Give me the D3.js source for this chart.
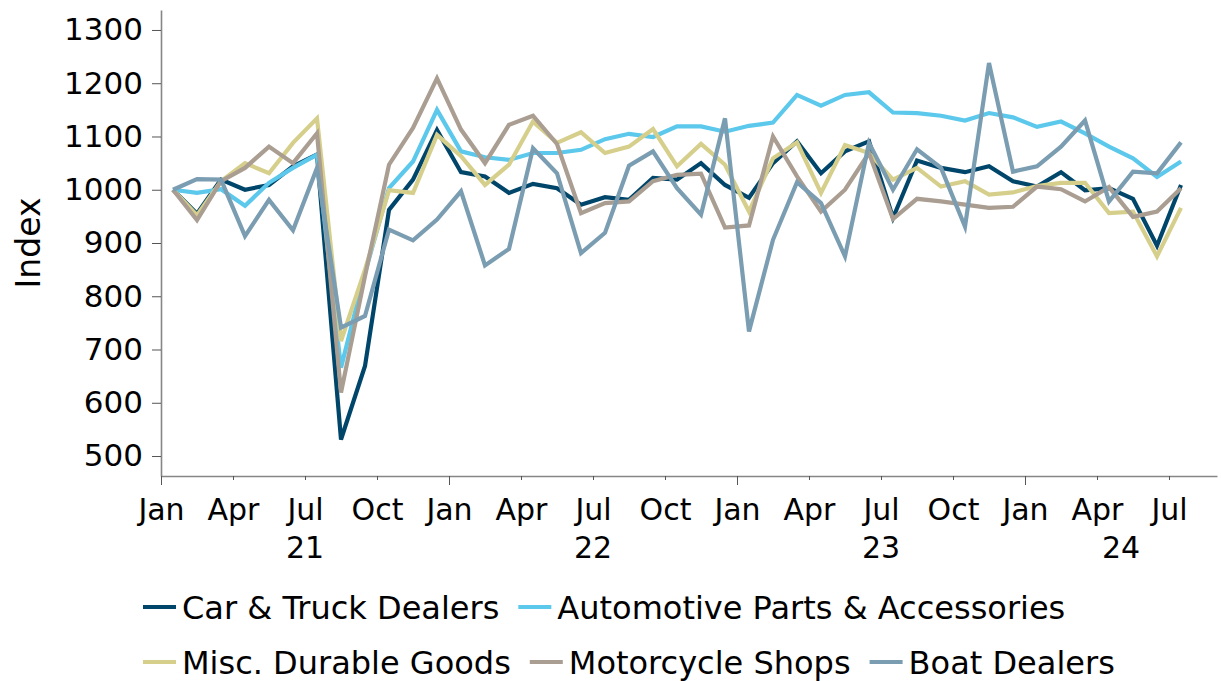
<!DOCTYPE html>
<html>
<head>
<meta charset="utf-8">
<script src="https://cdn.jsdelivr.net/npm/d3@7"></script>
<style>
  body { margin: 0; background: #fff; }
  text { font-family: "DejaVu Sans", Verdana, sans-serif; fill: #000; }
</style>
</head>
<body>
<div id="chart"></div>
<script>
// monthly index, Jan 2021 = 1000, Jan 2021 .. Jul 2024
const monthNames = ["Jan", "Feb", "Mar", "Apr", "May", "Jun", "Jul", "Aug", "Sep", "Oct", "Nov", "Dec"];
const years = ["21", "22", "23", "24"];
const nMonths = 44; // axis runs through Aug 24

const carTruck = [1000, 955, 1019, 1000, 1009, 1044, 1066, 531, 669, 962, 1019, 1112,
  1033, 1025, 994, 1011, 1003, 972, 986, 981, 1022, 1019, 1050, 1009,
  985, 1050, 1091, 1031, 1072, 1091, 947, 1055, 1041, 1033, 1044, 1016,
  1006, 1033, 999, 1003, 983, 895, 1009];
const autoParts = [1000, 994, 1001, 970, 1013, 1041, 1066, 666, 844, 1003, 1053, 1150,
  1072, 1061, 1056, 1069, 1069, 1075, 1095, 1105, 1099, 1119, 1119, 1109,
  1120, 1126, 1178, 1158, 1178, 1183, 1145, 1144, 1139, 1130, 1144, 1136,
  1118, 1128, 1106, 1081, 1059, 1024, 1053];
const miscDurable = [1000, 952, 1016, 1050, 1031, 1088, 1134, 716, 850, 999, 994, 1103,
  1063, 1009, 1047, 1128, 1088, 1108, 1069, 1081, 1114, 1044, 1086, 1047,
  959, 1059, 1089, 994, 1084, 1069, 1019, 1041, 1006, 1016, 991, 995,
  1007, 1013, 1013, 956, 959, 875, 966];
const motorcycle = [1000, 943, 1016, 1041, 1081, 1050, 1106, 619, 838, 1047, 1116, 1209,
  1113, 1050, 1122, 1139, 1086, 956, 975, 978, 1016, 1028, 1030, 929,
  933, 1100, 1025, 959, 1000, 1069, 945, 983, 978, 972, 966, 968,
  1006, 1001, 978, 1005, 949, 959, 1003];
const boat = [1000, 1020, 1019, 913, 981, 924, 1041, 741, 763, 925, 905, 944,
  997, 858, 889, 1078, 1031, 881, 919, 1045, 1072, 1003, 953, 1134,
  734, 906, 1014, 975, 875, 1088, 1000, 1076, 1041, 931, 1238, 1034,
  1044, 1081, 1130, 978, 1034, 1031, 1089];

const seriesNames = ["Car & Truck Dealers", "Automotive Parts & Accessories", "Misc. Durable Goods", "Motorcycle Shops", "Boat Dealers"];
const seriesValues = [carTruck, autoParts, miscDurable, motorcycle, boat];
const colors = ["#00466b", "#5bc8ec", "#d6cf8c", "#aa9d91", "#7b9db2"];

const W = 1221, H = 681;
const plot = { left: 161, right: 1217, top: 10, bottom: 476 };
const fontSize = 30;

const svg = d3.select("#chart").append("svg")
  .attr("width", W)
  .attr("height", H);

const x = d3.scaleLinear().domain([0, nMonths]).range([plot.left, plot.right]);
const y = d3.scaleLinear().domain([462.5, 1337.5]).range([plot.bottom, plot.top]);

// y axis
const yAxis = svg.append("g")
  .attr("transform", `translate(${plot.left},0)`)
  .call(d3.axisLeft(y).tickValues(d3.range(500, 1301, 100)).tickFormat(d3.format("d"))
    .tickSize(9).tickSizeOuter(0).tickPadding(9));
yAxis.selectAll("text").style("font-size", "31px").attr("font-family", null);

// x axis, ticks each quarter, longer at January
const quarterIdx = d3.range(0, nMonths, 3);
const xAxis = svg.append("g")
  .attr("transform", `translate(0,${plot.bottom})`)
  .call(d3.axisBottom(x).tickValues(quarterIdx).tickSize(9).tickSizeOuter(0).tickPadding(14)
    .tickFormat(i => monthNames[i % 12]));
xAxis.selectAll(".tick line").attr("y2", i => i % 12 === 0 ? 9 : 4);
xAxis.selectAll("text").style("font-size", fontSize + "px").attr("font-family", null);

[yAxis, xAxis].forEach(g => {
  g.select(".domain").attr("stroke", "#868686").attr("stroke-width", 1.6);
  g.selectAll(".tick line").attr("stroke", "#555");
});

// year labels centred on each year's span
svg.append("g").selectAll("text")
  .data(years)
  .join("text")
  .attr("x", (d, k) => (x(k * 12) + x(Math.min((k + 1) * 12, nMonths))) / 2)
  .attr("y", 558)
  .attr("text-anchor", "middle")
  .style("font-size", fontSize + "px")
  .text(d => d);

// y title
svg.append("text")
  .attr("transform", "translate(40,243) rotate(-90)")
  .attr("text-anchor", "middle")
  .style("font-size", "33px")
  .text("Index");

// lines
const line = d3.line()
  .x((d, i) => x(i + 0.5))
  .y(d => y(d));

svg.append("g").selectAll("path")
  .data(seriesValues)
  .join("path")
  .attr("d", line)
  .attr("fill", "none")
  .attr("stroke", (d, i) => colors[i])
  .attr("stroke-width", 4.2)
  .attr("stroke-linejoin", "miter");

// legend, wrapped into two rows like the original
const legendRows = [[0, 1], [2, 3, 4]];
const rowY = [607, 662];
const legend = svg.append("g");
legendRows.forEach((row, r) => {
  let cx = 143;
  row.forEach(k => {
    legend.append("line")
      .attr("x1", cx).attr("x2", cx + 33)
      .attr("y1", rowY[r]).attr("y2", rowY[r])
      .attr("stroke", colors[k])
      .attr("stroke-width", 4);
    const t = legend.append("text")
      .attr("x", cx + 39)
      .attr("y", rowY[r] + 12)
      .style("font-size", "32px")
      .text(seriesNames[k]);
    cx += 39 + t.node().getComputedTextLength() + 19;
  });
});
</script>
</body>
</html>
